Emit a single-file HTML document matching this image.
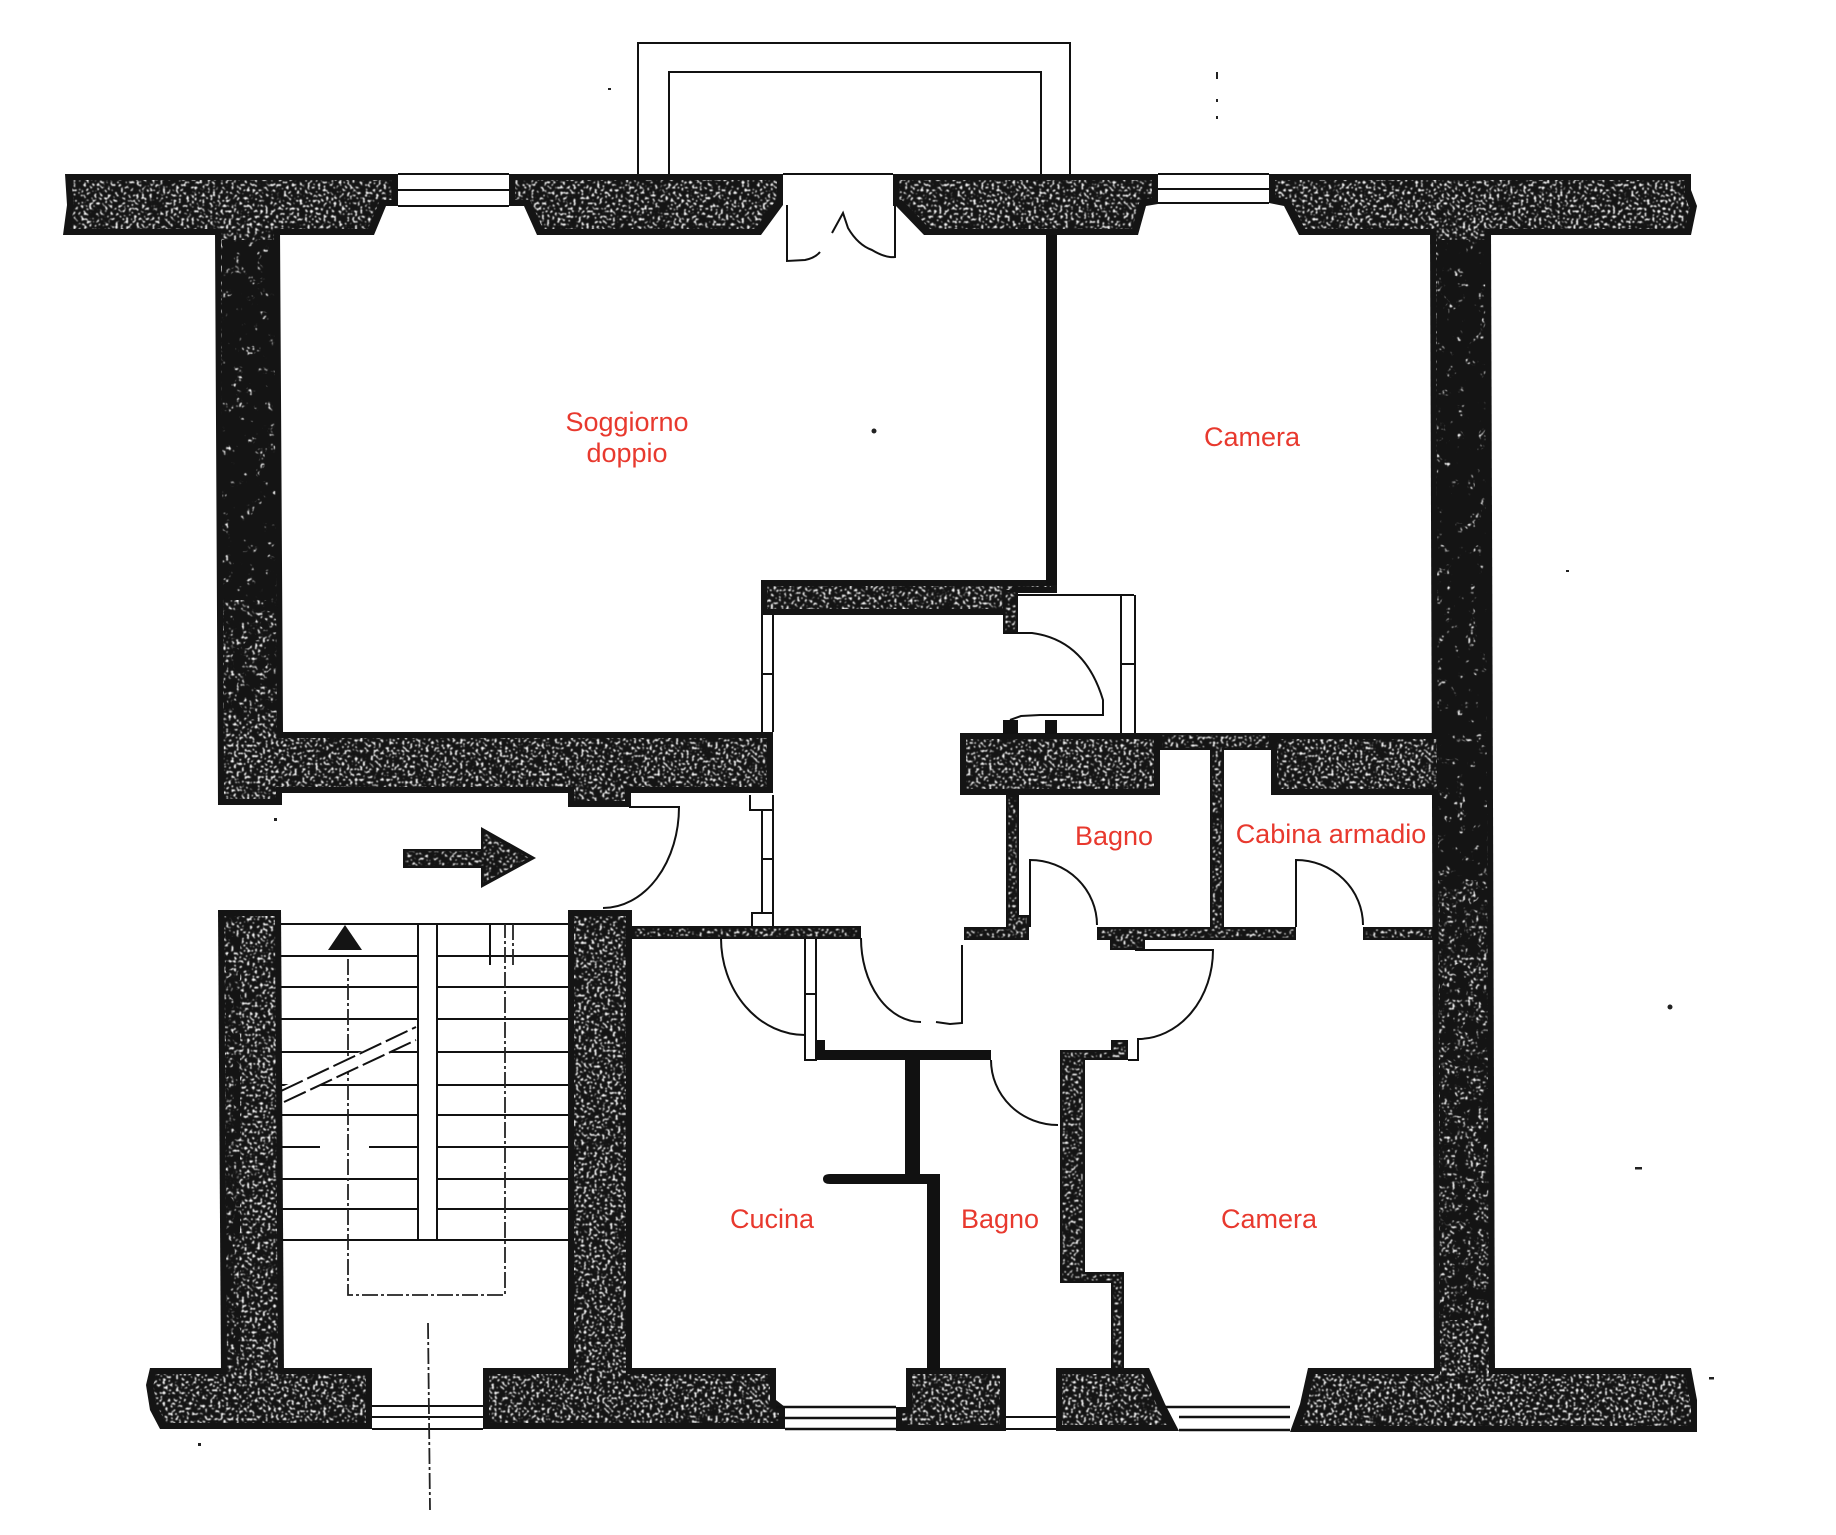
<!DOCTYPE html>
<html><head><meta charset="utf-8"><style>
html,body{margin:0;padding:0;background:#fff;width:1836px;height:1535px;overflow:hidden}
svg{display:block}
text{font-family:"Liberation Sans",Arial,sans-serif;font-size:27px;fill:#e8392e;text-anchor:middle}
.l{fill:none;stroke:#111;stroke-width:2}
.t{fill:none;stroke:#111;stroke-width:2.5}
.d{fill:none;stroke:#222;stroke-width:1.8;stroke-dasharray:16 3 3 3}
</style></head><body>
<svg width="1836" height="1535" viewBox="0 0 1836 1535" xmlns="http://www.w3.org/2000/svg">
<defs>
<filter id="a" filterUnits="userSpaceOnUse" x="0" y="0" width="1836" height="1535" color-interpolation-filters="sRGB">
<feTurbulence type="fractalNoise" baseFrequency=".38" numOctaves="1" seed="3" result="n"/>
<feColorMatrix in="n" type="matrix" values="0 0 0 0 1 0 0 0 0 1 0 0 0 0 1 9 0 0 0 -5" result="w"/>
<feGaussianBlur in="w" stdDeviation=".5" result="wb"/>
<feMorphology in="SourceAlpha" operator="erode" radius="6" result="e"/>
<feComposite in="wb" in2="e" operator="in" result="s"/>
<feMerge><feMergeNode in="SourceGraphic"/><feMergeNode in="s"/></feMerge>
</filter>
<filter id="th" filterUnits="userSpaceOnUse" x="0" y="0" width="1836" height="1535" color-interpolation-filters="sRGB">
<feTurbulence type="fractalNoise" baseFrequency=".38" numOctaves="1" seed="5" result="n"/>
<feColorMatrix in="n" type="matrix" values="0 0 0 0 1 0 0 0 0 1 0 0 0 0 1 9 0 0 0 -5.1" result="w"/>
<feGaussianBlur in="w" stdDeviation=".5" result="wb"/>
<feMorphology in="SourceAlpha" operator="erode" radius="2.5" result="e"/>
<feComposite in="wb" in2="e" operator="in" result="s"/>
<feMerge><feMergeNode in="SourceGraphic"/><feMergeNode in="s"/></feMerge>
</filter>
<filter id="m1" filterUnits="userSpaceOnUse" x="0" y="0" width="1836" height="1535" color-interpolation-filters="sRGB">
<feTurbulence type="fractalNoise" baseFrequency=".09" numOctaves="2" seed="11" result="n"/>
<feColorMatrix in="n" type="matrix" values="0 0 0 0 .08 0 0 0 0 .08 0 0 0 0 .08 10 0 0 0 -3" result="w"/>
<feComposite in="w" in2="SourceAlpha" operator="in"/>
</filter>
<filter id="m2" filterUnits="userSpaceOnUse" x="0" y="0" width="1836" height="1535" color-interpolation-filters="sRGB">
<feTurbulence type="fractalNoise" baseFrequency=".09" numOctaves="2" seed="21" result="n"/>
<feColorMatrix in="n" type="matrix" values="0 0 0 0 .08 0 0 0 0 .08 0 0 0 0 .08 10 0 0 0 -4.6" result="w"/>
<feComposite in="w" in2="SourceAlpha" operator="in"/>
</filter>
</defs>

<!-- balcony -->
<path class="l" d="M638 174V43H1070V174M669 174V72H1041V174"/>

<!-- speckled walls (large, one union) -->
<g fill="#141414" filter="url(#a)">
<path d="M65 174H398V206H386L374 235H63L67 205Z"/>
<path d="M509 174H783V205L761 235H537L524 206H509Z"/>
<path d="M893 174H1158V204L1146 206L1138 235H924L896 206H893Z"/>
<path d="M1269 174H1691V190L1697 206L1691 235H1299L1284 206L1269 203Z"/>
<path d="M215 230H280L283 732H773V793H631V807H568V793H282V805H218Z"/>
<path d="M1430 230H1491L1495 1375H1434Z"/>
<path d="M218 910H281L284 1375H221Z"/>
<path d="M568 910H632V1375H568Z"/>
<path d="M761 580H1057V593H1018V633H1003V615H761Z"/>
<path d="M960 733H1160V795H960Z"/>
<path d="M1271 733H1434V795H1271Z"/>
<path d="M150 1368H372V1429H160L150 1410L146 1385Z"/>
<path d="M483 1368H776V1400L785 1407V1429H483Z"/>
<path d="M906 1368H1006V1431H896V1407H906Z"/>
<path d="M1056 1368H1149L1165 1404L1179 1431H1056Z"/>
<path d="M1308 1368H1691L1697 1400V1432H1290L1300 1404Z"/>
</g>
<!-- reduce speckle density in long perimeter walls -->
<g fill="#141414">
<rect filter="url(#m1)" x="222" y="240" width="54" height="360"/>
<rect filter="url(#m2)" x="224" y="600" width="54" height="120"/>
<rect filter="url(#m1)" x="1437" y="240" width="50" height="640"/>
<rect filter="url(#m2)" x="1440" y="880" width="50" height="440"/>
<rect filter="url(#m2)" x="226" y="915" width="14" height="450"/>
</g>

<!-- thin speckled walls -->
<g fill="#141414" filter="url(#th)">
<path d="M1160 733H1271V750H1224V927H1296V940H1145V950H1110V940H1097V927H1210V750H1160Z"/>
<rect x="632" y="926" width="229" height="13"/>
<path d="M964 927H1006V795H1019V915L1029 915V940H964Z"/>
<rect x="1363" y="927" width="71" height="13"/>
<path d="M1060 1050H1111V1040H1128V1060H1085V1272H1124V1370H1111V1283H1060Z"/>
<rect x="1003" y="590" width="15" height="43"/>
</g>

<!-- solid thin walls -->
<g fill="#111">
<rect x="1046" y="235" width="11" height="350"/>
<rect x="1003" y="720" width="15" height="14"/>
<rect x="1045" y="720" width="12" height="14"/>
<rect x="905" y="1054" width="15" height="120"/>
<rect x="927" y="1174" width="13" height="196"/>
<path d="M823 1179Q823 1174 830 1174H940V1184H830Q823 1184 823 1179Z"/>
<path d="M817 1040H825V1050H991V1060H817Z"/>
</g>

<!-- windows -->
<path class="l" d="M398 174H509M398 190H509M398 206H509"/>
<path class="l" d="M1158 174H1269M1158 189H1269M1158 203H1269"/>
<path class="l" d="M372 1406H483M372 1417H483M372 1429H483"/>
<path class="t" d="M776 1407H896M776 1418H896M785 1429H896"/>
<path class="l" d="M1006 1417H1056M1006 1429H1056"/>
<path class="t" d="M1179 1417H1290M1165 1407H1290M1179 1430H1290"/>

<!-- french door -->
<path class="l" d="M783 174H893"/>
<path class="l" d="M787 205V261L805 260Q815 258 820 252M832 233Q838 222 843 213L848 228Q858 245 872 250Q885 258 895 257V206"/>

<!-- door bedroom/hall top -->
<path class="l" d="M1018 595H1134M1121 595V733M1135 595V733M1121 664H1135"/>
<path class="l" d="M1003 633H1032Q1085 640 1103 700V715H1040L1021 716L1010 720"/>

<!-- hall left double line -->
<path class="l" d="M762 615V732M773 615V732M762 674H773"/>
<path class="l" d="M750 795V810H773M762 810V913M773 795V926M762 859H773M752 926V913H773"/>
<path class="l" d="M805 939V1060H816V939M805 994H816"/>

<!-- doors -->
<path class="l" d="M629 807H679A76 101 0 0 1 603 908"/>
<path class="l" d="M721 938A84 97 0 0 0 805 1035"/>
<path class="l" d="M861 938A60 84 0 0 0 921 1022M936 1022L950 1024L962 1023V945"/>
<path class="l" d="M1030 927V860A67 65 0 0 1 1097 925"/>
<path class="l" d="M1296 927V860A67 65 0 0 1 1363 925"/>
<path class="l" d="M1135 950H1213A75 89 0 0 1 1138 1039V1060H1128"/>
<path class="l" d="M991 1060A67 65 0 0 0 1058 1125"/>

<!-- arrow -->
<path d="M403 849H481V827L536 858L481 888V868H403Z" fill="#141414" filter="url(#th)"/>

<!-- stairs -->
<path class="l" d="M281 924H568M281 956H417M437 956H568M281 987H417M437 987H568M281 1019H417M437 1019H568M281 1052H417M437 1052H568M281 1085H417M437 1085H568M281 1115H417M437 1115H568M281 1147H320M369 1147H417M437 1147H568M281 1179H417M437 1179H568M281 1209H417M437 1209H568M281 1240H568"/>
<path class="l" d="M418 924V1240M437 924V1240"/>
<path class="l" d="M490 924V965"/>
<path class="d" d="M348 959V1295H505V924"/>
<path class="d" d="M513 924V968"/>
<path d="M345 925L362 950H328Z" fill="#141414"/>
<path d="M284 1086L416 1027L416 1040L284 1102Z" fill="#fff"/>
<path class="l" stroke-dasharray="24 5" d="M281 1091L416 1027M284 1102L416 1040"/>
<path class="d" d="M428 1323L430 1510"/>

<!-- specks -->
<g fill="#222">
<circle cx="874" cy="431" r="2.5"/>
<circle cx="1670" cy="1007" r="2.5"/>
<rect x="1635" y="1167" width="7" height="2.5"/>
<rect x="1709" y="1377" width="5" height="2.5"/>
<rect x="1216" y="72" width="2" height="7"/>
<rect x="1216" y="99" width="2" height="3"/>
<rect x="1216" y="116" width="2" height="3"/>
<rect x="608" y="88" width="3" height="2"/>
<rect x="198" y="1443" width="3" height="3"/>
<rect x="274" y="818" width="3" height="3"/>
<rect x="1566" y="570" width="3" height="2"/>
</g>

<!-- labels -->
<text x="627" y="431">Soggiorno</text>
<text x="627" y="462">doppio</text>
<text x="1252" y="446">Camera</text>
<text x="1114" y="845">Bagno</text>
<text x="1331" y="843">Cabina armadio</text>
<text x="772" y="1228">Cucina</text>
<text x="1000" y="1228">Bagno</text>
<text x="1269" y="1228">Camera</text>
</svg>
</body></html>
